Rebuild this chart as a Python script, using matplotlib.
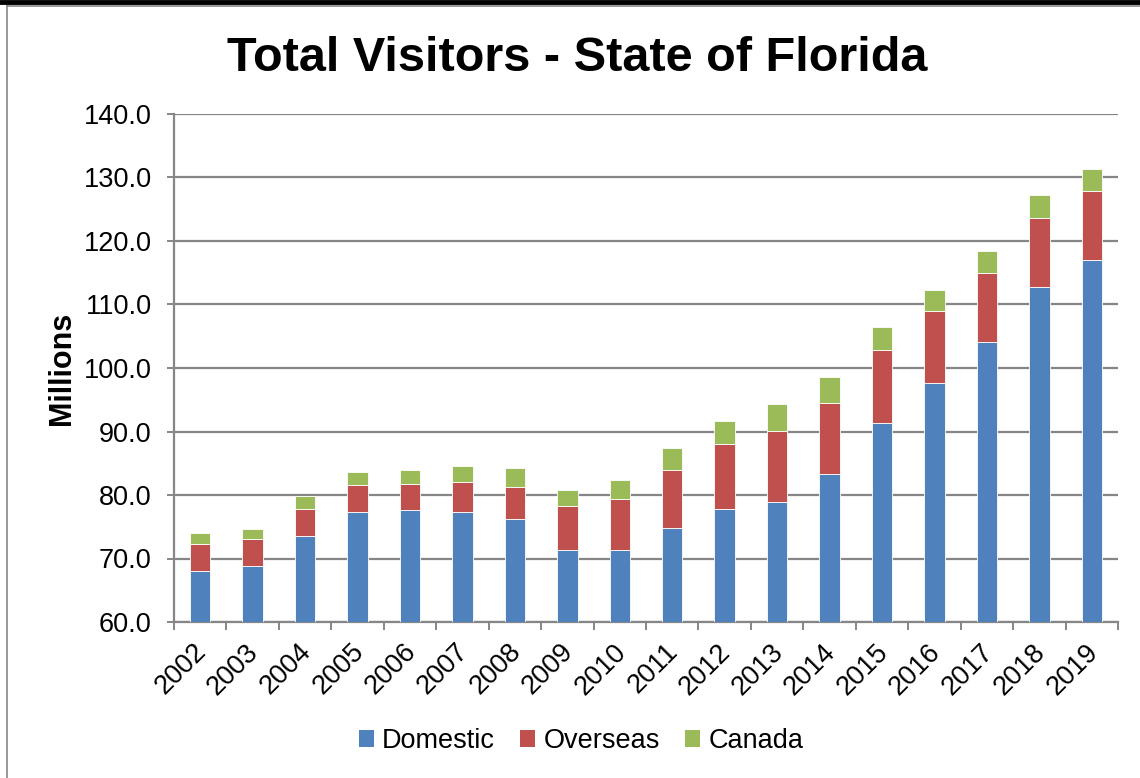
import matplotlib
matplotlib.use("Agg")
import matplotlib.pyplot as plt
from matplotlib.patches import Patch
from matplotlib.lines import Line2D
import matplotlib.transforms as mtransforms
import numpy as np

years = ["2002", "2003", "2004", "2005", "2006", "2007", "2008", "2009", "2010",
         "2011", "2012", "2013", "2014", "2015", "2016", "2017", "2018", "2019"]
domestic = [68.0, 68.8, 73.5, 77.3, 77.7, 77.4, 76.2, 71.3, 71.3,
            74.8, 77.8, 78.9, 83.3, 91.4, 97.7, 104.1, 112.8, 117.0]
overseas = [4.3, 4.2, 4.3, 4.3, 4.1, 4.6, 5.1, 7.0, 8.0,
            9.2, 10.3, 11.2, 11.2, 11.4, 11.2, 10.9, 10.9, 10.8]
canada = [1.7, 1.7, 2.0, 2.1, 2.1, 2.6, 3.0, 2.5, 3.1,
          3.4, 3.6, 4.2, 4.1, 3.7, 3.4, 3.4, 3.5, 3.6]
series_names = ["Domestic", "Overseas", "Canada"]
colors = ["#4F81BD", "#C0504D", "#9BBB59"]
yticks = [60, 70, 80, 90, 100, 110, 120, 130, 140]

plt.rcParams['font.family'] = ['Liberation Sans', 'DejaVu Sans']

W, H = 1140, 778
fig = plt.figure(figsize=(W / 100, H / 100), dpi=100)
ax = fig.add_axes([174 / W, 1 - 622 / H, (1118 - 174) / W, (622 - 114) / H])

gray = "#868686"
x = np.arange(len(years))
bw = 0.39
bottom = np.array(domestic) * 0
for vals, c, name in zip([domestic, overseas, canada], colors, series_names):
    vals = np.array(vals)
    ax.bar(x, vals, bw, bottom=bottom, color=c, edgecolor="white", linewidth=0.6,
           label=name, zorder=3)
    bottom = bottom + vals

ax.set_xlim(-0.5, len(years) - 0.5)
ax.set_ylim(60, 140)
ax.set_yticks(yticks)
ax.set_yticklabels([f"{v:.1f}" for v in yticks], fontsize=19.5)
ax.yaxis.grid(True, color=gray, linewidth=1.6, zorder=0)
ax.set_axisbelow(True)

ax.set_xticks(x)
ax.set_xticklabels(years, rotation=45, ha="right", rotation_mode="anchor", fontsize=19.5)
ax.set_xticks(np.arange(-0.5, len(years), 1.0), minor=True)
ax.tick_params(axis="x", which="major", length=0, pad=12)
ax.tick_params(axis="x", which="minor", length=6, width=1.4, color=gray, direction="out")
ax.tick_params(axis="y", length=5, width=1.4, color=gray, direction="out", pad=11)

offset = mtransforms.ScaledTranslation(-7 / 100, 0, fig.dpi_scale_trans)
for lbl in ax.get_xticklabels():
    lbl.set_transform(lbl.get_transform() + offset)

for s in ["top", "right"]:
    ax.spines[s].set_visible(False)
for s in ["left", "bottom"]:
    ax.spines[s].set_color(gray)
    ax.spines[s].set_linewidth(1.6)

fig.text(577 / W, 1 - 71 / H, "Total Visitors - State of Florida", fontsize=35,
         fontweight="bold", ha="center", va="baseline")
fig.text(62 / W, 1 - 368 / H, "Millions", fontsize=22, fontweight="bold",
         rotation=90, ha="center", va="center")

handles = [Patch(facecolor=c, edgecolor="none") for c in colors]
fig.legend(handles, series_names, loc="center", bbox_to_anchor=(581 / W, 1 - 741 / H),
           ncol=3, frameon=False, fontsize=19.5, handlelength=0.55, handleheight=0.55,
           handletextpad=0.3, columnspacing=0.95)

# chart frame lines
fig.add_artist(Line2D([0, 1], [1 - 1.5 / H, 1 - 1.5 / H], color="black", linewidth=3.5,
                      transform=fig.transFigure))
fig.add_artist(Line2D([7 / W, 1], [1 - 6 / H, 1 - 6 / H], color=gray, linewidth=1.2,
                      transform=fig.transFigure))
fig.add_artist(Line2D([7 / W, 7 / W], [0, 1 - 6 / H], color=gray, linewidth=1.2,
                      transform=fig.transFigure))

fig.savefig("out.png", dpi=100)
